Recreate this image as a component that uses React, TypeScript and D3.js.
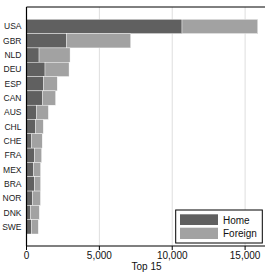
import React from 'react';
import * as d3 from 'd3';

const countries = ['USA', 'GBR', 'NLD', 'DEU', 'ESP', 'CAN', 'AUS', 'CHL', 'CHE', 'FRA', 'MEX', 'BRA', 'NOR', 'DNK', 'SWE'];
const home = [10670, 2760, 860, 1270, 1150, 1080, 700, 630, 360, 540, 470, 540, 400, 290, 360];
const total = [15870, 7150, 2990, 2920, 2110, 2000, 1500, 1150, 1080, 1040, 970, 970, 960, 880, 810];
const foreign = total.map((t, i) => t - home[i]);
const xTicks = [0, 5000, 10000, 15000];

const W = 265;
const H = 273;
const left = 26.5;
const top = 7;
const bottom = 246;

const DARK = '#606060';
const LIGHT = '#a2a2a2';

const App: React.FC = () => {
  const x = d3.scaleLinear().domain([0, 16400]).range([left, 265.5]);
  const y = d3.scaleBand().domain(countries).range([19.3, 234]).padding(0);
  const fmt = d3.format(',');

  return (
    <svg width={W} height={H} style={{ position: 'absolute', left: 0, top: 0, fontFamily: 'Liberation Sans, Arial, sans-serif' }}>
      {xTicks.slice(1).map((t) => (
        <line key={t} x1={x(t)} x2={x(t)} y1={top} y2={bottom} stroke="#dedede" strokeWidth={1} />
      ))}
      {countries.map((c, i) => (
        <g key={c}>
          <rect x={x(0)} y={y(c)!} width={x(home[i]) - x(0)} height={y.bandwidth()} fill={DARK} stroke="#fff" strokeWidth={0.4} />
          <rect x={x(home[i])} y={y(c)!} width={x(home[i] + foreign[i]) - x(home[i])} height={y.bandwidth()} fill={LIGHT} stroke="#fff" strokeWidth={0.4} />
          <text x={21.5} y={y(c)! + y.bandwidth() / 2 + 3} textAnchor="end" fontSize={8.5} fill="#222">{c}</text>
        </g>
      ))}
      <line x1={left} x2={W} y1={top} y2={top} stroke="#000" strokeWidth={1} />
      <line x1={left} x2={left} y1={top} y2={bottom} stroke="#000" strokeWidth={1.2} />
      <line x1={left} x2={W} y1={bottom} y2={bottom} stroke="#000" strokeWidth={1.2} />
      {xTicks.map((t) => (
        <g key={t}>
          <line x1={x(t)} x2={x(t)} y1={bottom} y2={bottom + 4} stroke="#000" strokeWidth={1} />
          <text x={x(t)} y={258.5} textAnchor="middle" fontSize={10} fill="#111">{fmt(t)}</text>
        </g>
      ))}
      <text x={146.5} y={270} textAnchor="middle" fontSize={10} fill="#111">Top 15</text>
      <rect x={175.7} y={210} width={86.6} height={33} fill="#fff" stroke="#000" strokeWidth={1} />
      <rect x={180} y={214.3} width={38} height={10.7} fill={DARK} />
      <rect x={180} y={227.7} width={38} height={11.3} fill={LIGHT} />
      <text x={223} y={223.5} fontSize={10} fill="#111">Home</text>
      <text x={223} y={237} fontSize={10} fill="#111">Foreign</text>
    </svg>
  );
};

export default App;
